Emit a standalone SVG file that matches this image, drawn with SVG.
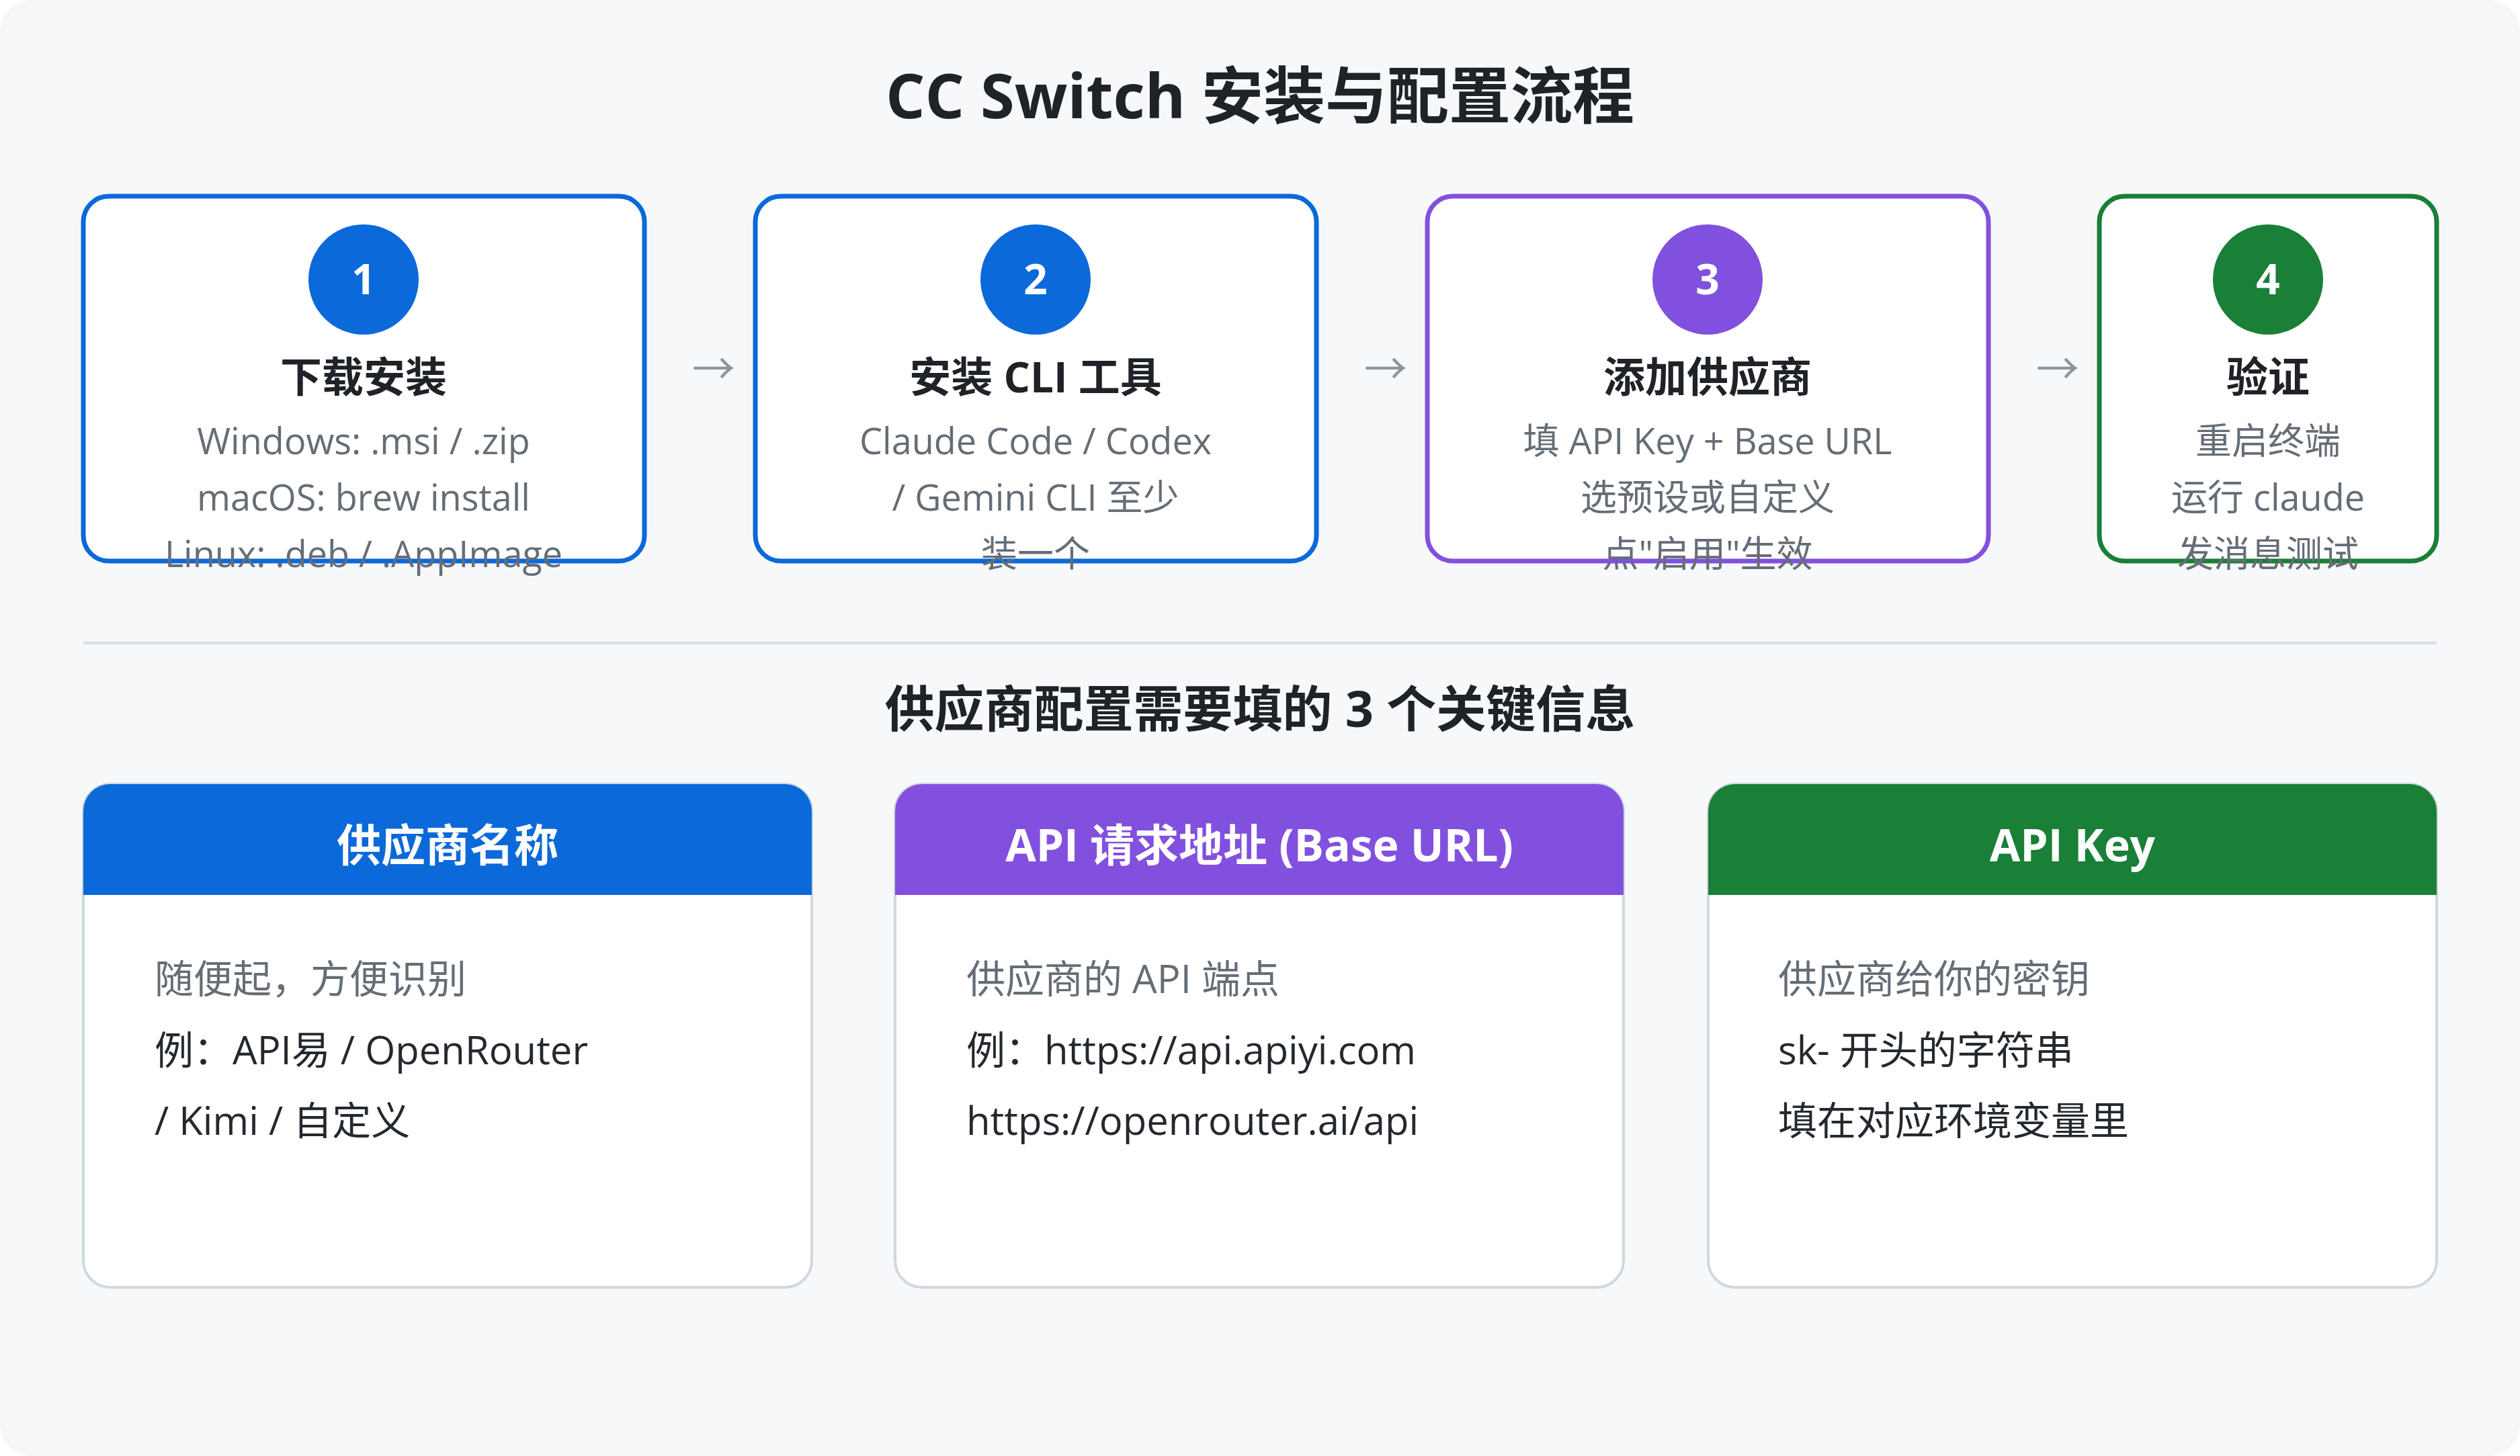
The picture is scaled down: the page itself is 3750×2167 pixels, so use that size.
<svg xmlns="http://www.w3.org/2000/svg" width="3750" height="2167" viewBox="0 0 3750 2167">
<style>
text{font-family:"Open Sans","Noto Sans CJK SC",sans-serif;text-anchor:middle}
.t{font-size:92px;font-weight:700;fill:#1f2328}
.st{font-size:74px;font-weight:700;fill:#1f2328}
.num{font-size:62px;font-weight:700;fill:#fff}
.h{font-size:62px;font-weight:700;fill:#1f2328}
.d{font-size:54px;fill:#656d76}
.arr{font-size:64px;fill:#8c959f}
.ch{font-size:66px;font-weight:700;fill:#fff}
.b{font-size:58px;fill:#24292f;text-anchor:start}
.bg{fill:#656d76}
.box{fill:#fff;stroke-width:7}
.card{fill:#fff;stroke:#d0d7de;stroke-width:4}
</style>
<rect x="0" y="0" width="3750" height="2167" rx="48" fill="#f6f8fa"/>
<text class="t" x="1875" y="176">CC Switch 安装与配置流程</text>
<g id="step1">
<rect class="box" x="124" y="292" width="835" height="543" rx="38" stroke="#0b69d9"/>
<circle cx="541" cy="416" r="82" fill="#0b69d9"/><text class="num" x="541" y="438">1</text>
<text class="h" x="541" y="584">下载安装</text>
<text class="d" x="541" y="676">Windows: .msi / .zip</text>
<text class="d" x="541" y="760">macOS: brew install</text>
<text class="d" x="541" y="844">Linux: .deb / .AppImage</text>
</g>
<g id="step2">
<rect class="box" x="1124" y="292" width="835" height="543" rx="38" stroke="#0b69d9"/>
<circle cx="1541" cy="416" r="82" fill="#0b69d9"/><text class="num" x="1541" y="438">2</text>
<text class="h" x="1541" y="584">安装 CLI 工具</text>
<text class="d" x="1541" y="676">Claude Code / Codex</text>
<text class="d" x="1541" y="760">/ Gemini CLI 至少</text>
<text class="d" x="1541" y="844">装一个</text>
</g>
<g id="step3">
<rect class="box" x="2124" y="292" width="835" height="543" rx="38" stroke="#8250df"/>
<circle cx="2541" cy="416" r="82" fill="#8250df"/><text class="num" x="2541" y="438">3</text>
<text class="h" x="2541" y="584">添加供应商</text>
<text class="d" x="2541" y="676">填 API Key + Base URL</text>
<text class="d" x="2541" y="760">选预设或自定义</text>
<text class="d" x="2541" y="844">点"启用"生效</text>
</g>
<g id="step4">
<rect class="box" x="3124" y="292" width="502" height="543" rx="38" stroke="#1a7f37"/>
<circle cx="3375" cy="416" r="82" fill="#1a7f37"/><text class="num" x="3375" y="438">4</text>
<text class="h" x="3375" y="584">验证</text>
<text class="d" x="3375" y="676">重启终端</text>
<text class="d" x="3375" y="760">运行 claude</text>
<text class="d" x="3375" y="844">发消息测试</text>
</g>
<g id="connectors">
<text class="arr" x="1062" y="572">→</text>
<text class="arr" x="2062" y="572">→</text>
<text class="arr" x="3062" y="572">→</text>
</g>
<line x1="124" y1="957" x2="3626" y2="957" stroke="#d8dee4" stroke-width="4"/>
<text class="st" x="1875" y="1082">供应商配置需要填的 3 个关键信息</text>
<g id="card1">
<rect class="card" x="124" y="1167" width="1084" height="749" rx="40"/>
<path d="M124 1332V1207a40 40 0 0 1 40-40h1004a40 40 0 0 1 40 40v125z" fill="#0b69d9"/>
<text class="ch" x="666" y="1282">供应商名称</text>
<text class="b bg" x="230" y="1478">随便起，方便识别</text>
<text class="b" x="230" y="1584">例：API易 / OpenRouter</text>
<text class="b" x="230" y="1689">/ Kimi / 自定义</text>
</g>
<g id="card2">
<rect class="card" x="1332" y="1167" width="1084" height="749" rx="40"/>
<path d="M1332 1332V1207a40 40 0 0 1 40-40h1004a40 40 0 0 1 40 40v125z" fill="#8250df"/>
<text class="ch" x="1874" y="1282">API 请求地址 (Base URL)</text>
<text class="b bg" x="1438" y="1478">供应商的 API 端点</text>
<text class="b" x="1438" y="1584">例：https://api.apiyi.com</text>
<text class="b" x="1438" y="1689">https://openrouter.ai/api</text>
</g>
<g id="card3">
<rect class="card" x="2542" y="1167" width="1084" height="749" rx="40"/>
<path d="M2542 1332V1207a40 40 0 0 1 40-40h1004a40 40 0 0 1 40 40v125z" fill="#1a7f37"/>
<text class="ch" x="3084" y="1282">API Key</text>
<text class="b bg" x="2646" y="1478">供应商给你的密钥</text>
<text class="b" x="2646" y="1584">sk- 开头的字符串</text>
<text class="b" x="2646" y="1689">填在对应环境变量里</text>
</g>
</svg>
